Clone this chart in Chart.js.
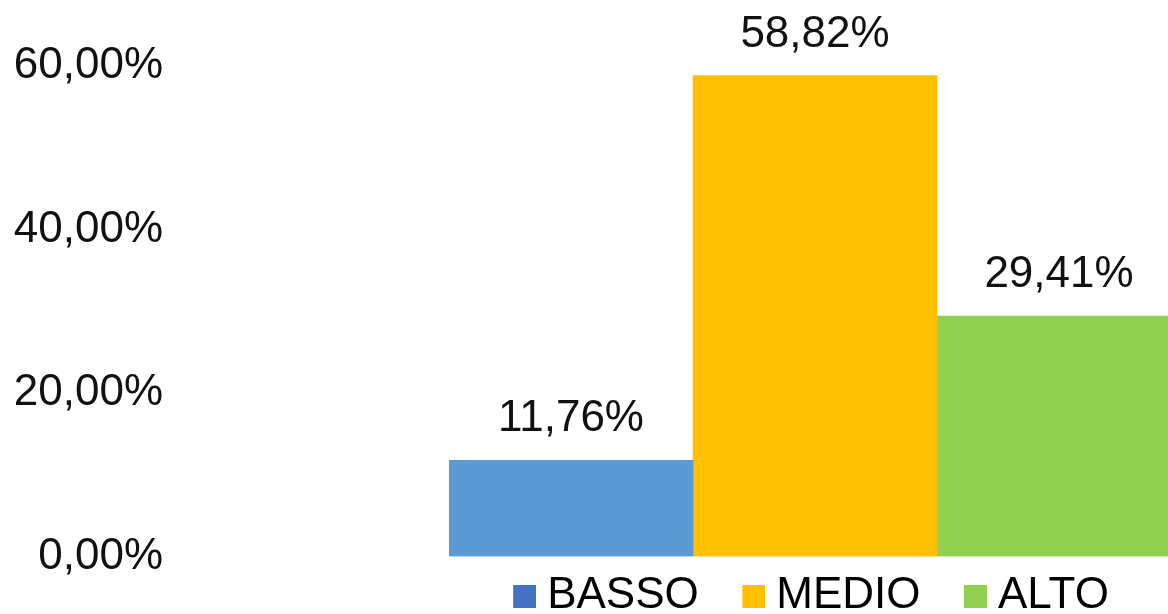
<!DOCTYPE html>
<html>
<head>
<meta charset="utf-8">
<script src="https://cdn.jsdelivr.net/npm/chart.js@4/dist/chart.umd.min.js"></script>
<style>
  html, body { margin: 0; padding: 0; background: #ffffff; overflow: hidden; }
  #wrap { width: 1181px; height: 628px; }
</style>
</head>
<body>
<div id="wrap"><canvas id="chart" width="1181" height="628"></canvas></div>
<script>
// Livelli e percentuali
const categories = ['BASSO', 'MEDIO', 'ALTO'];
const percentages = [11.76, 58.82, 29.41];
const barColors = ['#5B9BD5', '#FFC000', '#92D050'];
const legendColors = ['#4472C4', '#FFC000', '#92D050'];
const yTickLabels = ['0,00%', '20,00%', '40,00%', '60,00%'];

const FONT = "'Liberation Sans', Arial, Helvetica, sans-serif";

const formatPct = v => v.toFixed(2).replace('.', ',') + '%';

// Legend swatch: a square sitting at the right end of a transparent strip,
// so the square ends up close to its label text
const SWATCH_W = 60, SWATCH_SIZE = 23;
function makeSwatch(color) {
  const c = document.createElement('canvas');
  c.width = SWATCH_W;
  c.height = SWATCH_SIZE;
  const g = c.getContext('2d');
  g.fillStyle = color;
  g.fillRect(SWATCH_W - SWATCH_SIZE, 0, SWATCH_SIZE, SWATCH_SIZE);
  return c;
}

// One dataset per level so the bars sit side by side in a single group
const datasets = categories.map((name, i) => ({
  label: name,
  data: [percentages[i]],
  backgroundColor: barColors[i],
  borderWidth: 0,
  categoryPercentage: 1.0,
  barPercentage: 1.0
}));

// Value labels above each bar
const valueLabels = {
  id: 'valueLabels',
  afterDatasetsDraw(chart) {
    const ctx = chart.ctx;
    ctx.save();
    ctx.font = '44px ' + FONT;
    ctx.fillStyle = '#111111';
    ctx.textAlign = 'center';
    ctx.textBaseline = 'alphabetic';
    chart.data.datasets.forEach((ds, i) => {
      const meta = chart.getDatasetMeta(i);
      const bar = meta.data[0];
      ctx.fillText(formatPct(ds.data[0]), bar.x, bar.y - 29);
    });
    ctx.restore();
  }
};

// Shift the legend row a little to the left of the plot-area centre
const legendNudge = {
  id: 'legendNudge',
  afterLayout(chart) {
    if (!chart.legend) return;
    chart.legend.left -= 17;
    chart.legend.right -= 17;
  }
};

new Chart(document.getElementById('chart'), {
  type: 'bar',
  data: { labels: [''], datasets },
  plugins: [valueLabels, legendNudge],
  options: {
    responsive: false,
    animation: false,
    devicePixelRatio: 1,
    layout: { padding: { top: 66, right: 0, bottom: 0, left: 0 } },
    scales: {
      x: { display: false },
      y: {
        min: 0,
        max: 60,
        // invisible tick marks keep the labels well left of the bars
        grid: { display: false, drawTicks: true, tickLength: 276 },
        border: { display: false },
        ticks: {
          stepSize: 20,
          padding: 10,
          color: '#111111',
          font: { family: FONT, size: 44 },
          callback: (v, i) => yTickLabels[i]
        },
        afterFit(scale) { scale.width = 449; }
      }
    },
    plugins: {
      tooltip: { enabled: false },
      legend: {
        position: 'bottom',
        fullSize: false,
        align: 'center',
        labels: {
          usePointStyle: true,
          pointStyleWidth: 38,
          boxHeight: 23,
          padding: 17.5,
          color: '#111111',
          font: { family: FONT, size: 44 },
          generateLabels(chart) {
            return chart.data.datasets.map((ds, i) => ({
              text: ds.label,
              fillStyle: legendColors[i],
              strokeStyle: legendColors[i],
              lineWidth: 0,
              pointStyle: makeSwatch(legendColors[i]),
              rotation: 0,
              hidden: false,
              datasetIndex: i
            }));
          }
        }
      }
    }
  }
});
</script>
</body>
</html>
